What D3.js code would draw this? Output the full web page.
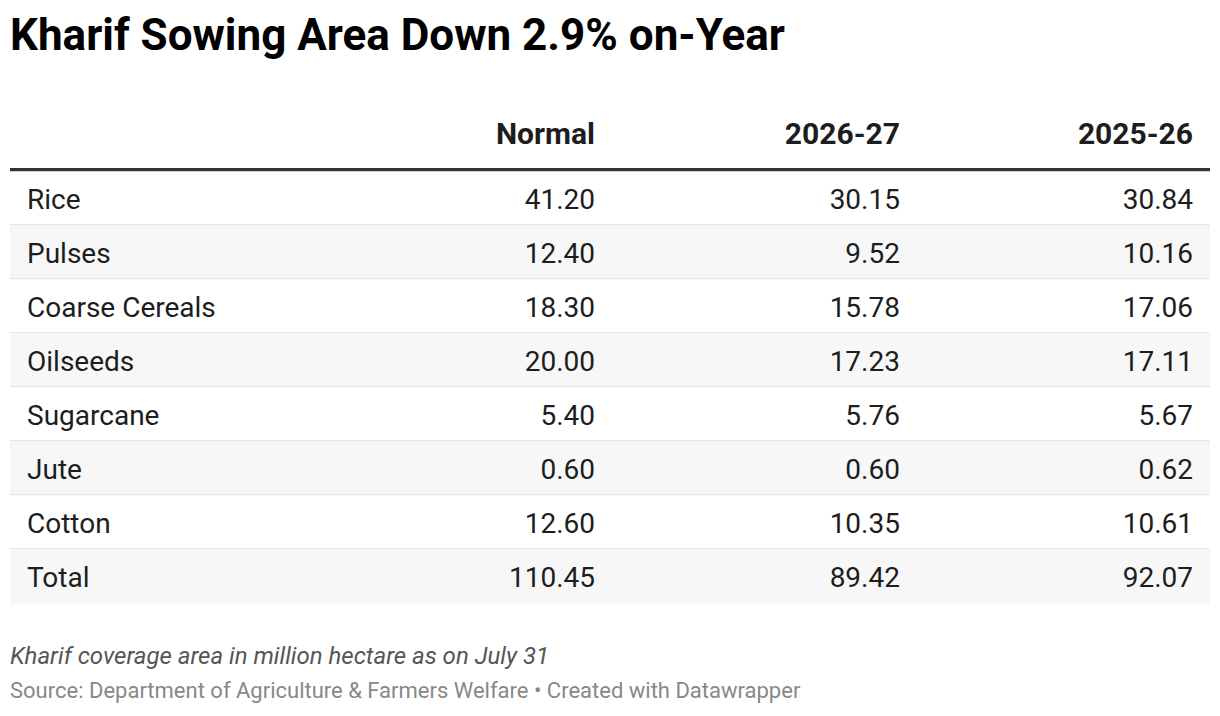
<!DOCTYPE html>
<html>
<head>
<meta charset="utf-8">
<script src="https://cdn.jsdelivr.net/npm/d3@7"></script>
<style>
  html, body { margin: 0; padding: 0; background: #fff; }
  svg text { font-family: Roboto, "Noto Sans", sans-serif; }
</style>
</head>
<body>
<div id="chart"></div>
<script>
const title = "Kharif Sowing Area Down 2.9% on-Year";
const note = "Kharif coverage area in million hectare as on July 31";
const source = "Source: Department of Agriculture & Farmers Welfare • Created with Datawrapper";

const columns = ["", "Normal", "2026-27", "2025-26"];
const crops = ["Rice", "Pulses", "Coarse Cereals", "Oilseeds", "Sugarcane", "Jute", "Cotton", "Total"];
const normal = [41.20, 12.40, 18.30, 20.00, 5.40, 0.60, 12.60, 110.45];
const year2627 = [30.15, 9.52, 15.78, 17.23, 5.76, 0.60, 10.35, 89.42];
const year2526 = [30.84, 10.16, 17.06, 17.11, 5.67, 0.62, 10.61, 92.07];

const width = 1220, height = 716;
const dim = {
  left: 10, right: 1210,
  headerTop: 100, headerBottom: 168, border: 3.5,
  rowHeight: 54, pad: 17
};
const bodyTop = dim.headerBottom + dim.border;

// column boundaries as share of table width
const colEdges = [0, 0.5017, 0.7558, 1];
const x = d3.scaleLinear().domain([0, 1]).range([dim.left, dim.right]);
const y = d3.scaleBand().domain(crops).range([bodyTop, bodyTop + crops.length * dim.rowHeight]);
const fmt = d3.format(".2f");

const svg = d3.select("#chart").append("svg")
  .attr("width", width).attr("height", height);

svg.append("text")
  .attr("x", dim.left).attr("y", 50)
  .style("font-size", "44px").style("font-weight", 700).attr("fill", "#000")
  .text(title);

// header
const header = svg.append("g");
columns.forEach((c, i) => {
  if (i === 0) return;
  header.append("text")
    .attr("x", x(colEdges[i]) - dim.pad)
    .attr("y", 144)
    .attr("text-anchor", "end")
    .style("font-size", "30px").style("font-weight", 700).attr("fill", "#1d1d1d")
    .text(c);
});
header.append("rect")
  .attr("x", dim.left).attr("y", dim.headerBottom)
  .attr("width", dim.right - dim.left).attr("height", dim.border)
  .attr("fill", "#333");

// body rows
const rows = crops.map((c, i) => ({ crop: c, values: [normal[i], year2627[i], year2526[i]], i }));
const row = svg.append("g").selectAll("g").data(rows).join("g")
  .attr("transform", d => `translate(0,${y(d.crop)})`);

row.append("rect")
  .attr("x", dim.left).attr("width", dim.right - dim.left)
  .attr("height", y.bandwidth())
  .attr("fill", d => d.i % 2 ? "#f7f7f7" : "#fff");

row.filter(d => d.i < crops.length - 1).append("rect")
  .attr("x", dim.left).attr("width", dim.right - dim.left)
  .attr("y", y.bandwidth() - 1.5).attr("height", 1.5)
  .attr("fill", "#e5e5e5");

row.append("text")
  .attr("x", dim.left + dim.pad).attr("y", 37)
  .style("font-size", "28px").attr("fill", "#1d1d1d")
  .text(d => d.crop);

row.selectAll("text.val").data(d => d.values).join("text")
  .attr("class", "val")
  .attr("x", (v, j) => x(colEdges[j + 1]) - dim.pad)
  .attr("y", 37)
  .attr("text-anchor", "end")
  .style("font-size", "28px").attr("fill", "#1d1d1d")
  .text(v => fmt(v));

svg.append("text")
  .attr("x", dim.left).attr("y", 664)
  .style("font-size", "24px").style("font-style", "italic").attr("fill", "#555")
  .text(note);

svg.append("text")
  .attr("x", dim.left).attr("y", 698)
  .style("font-size", "22px").attr("fill", "#888")
  .text(source);
</script>
</body>
</html>
